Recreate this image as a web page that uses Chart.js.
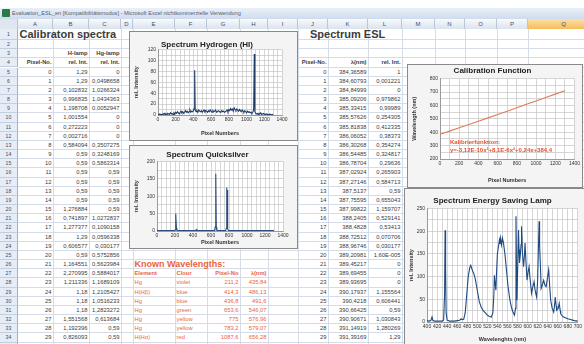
<!DOCTYPE html>
<html>
<head>
<meta charset="utf-8">
<script src="https://cdn.jsdelivr.net/npm/chart.js@4.4.1/dist/chart.umd.min.js"></script>
<style>
  body { margin: 0; width: 584px; height: 344px; overflow: hidden; background: #fff; position: relative;
         font-family: 'Liberation Sans', Arial, sans-serif; }
  .abs { position: absolute; }
  .celda { position: absolute; font-size: 5.8px; color: #3c3c3c; white-space: nowrap; z-index: 2; }
  .negrita { font-weight: bold; }
  .linea { position: absolute; background: #d5dce7; z-index: 1; }
  .colhdr { position: absolute; top: 19px; height: 10px; line-height: 10px; text-align: center; font-size: 6px;
            color: #3d4f68; background: linear-gradient(#f8fafd, #dbe3ee); border-right: 1px solid #b9c6d8;
            box-sizing: border-box; z-index: 3; }
  .filahdr { position: absolute; left: 0; width: 18px; text-align: center; font-size: 5.2px; color: #3d4f68;
             background: #e6edf7; border-bottom: 1px solid #c3cfdf; border-right: 1px solid #9fb3cc;
             box-sizing: border-box; z-index: 3; }
  .graf { position: absolute; border: 1px solid #8a8a8a; background: #f4f4f4; z-index: 5; }
  .graf canvas { display: block; }
  .rojo { color: #e8643e; }
</style>
</head>
<body>

<div class="abs" style="left:0;top:8px;width:584px;height:11px;background:linear-gradient(#e9f0f9,#cfdcee);z-index:3"></div>
<div class="abs" style="left:2px;top:9px;width:8px;height:8px;background:#2d7a46;border-radius:1px;z-index:4"></div>
<div class="abs" style="left:12px;top:9px;font-size:5.6px;line-height:9px;color:#55606e;z-index:4">Evaluation_ESL_en  [Kompatibilitätsmodus] - Microsoft Excel nichtkommerzielle Verwendung</div>
<div class="abs" style="left:0;top:19px;width:18px;height:10px;background:#dfe6f0;border-right:1px solid #b9c6d8;box-sizing:border-box;z-index:3"></div>

<div id="hoja"></div>

<div class="graf" style="left:129px;top:31px;width:167px;height:108px"><canvas id="cHidrogeno" width="167" height="108"></canvas></div>
<div class="graf" style="left:129px;top:145px;width:167px;height:102px"><canvas id="cMercurio" width="167" height="102"></canvas></div>
<div class="graf" style="left:407px;top:64px;width:174px;height:122px"><canvas id="cCalibracion" width="174" height="122"></canvas></div>
<div class="graf" style="left:404px;top:188px;width:179px;height:160px"><canvas id="cLampara" width="179" height="160"></canvas></div>

<div class="abs negrita" style="left:450px;top:138px;font-size:6px;line-height:8px;color:#e8502a;z-index:6">Kalibrierfunktion:<br>y=-3,12E-10x³+8,1E-6x²+0,24x+384,4</div>

<script>
// Hoja de cálculo: tablas
const pixelTabla = [0, 1, 2, 3, 4, 5, 6, 7, 8, 9, 10, 11, 12, 13, 14, 15, 16, 17, 18, 19, 20, 21, 22, 23, 24, 25, 26, 27, 28, 29];
const hLampara = ['1,29', '1,29', '0,102832', '0,996835', '1,198708', '1,001554', '0,272223', '0,002716', '0,584094', '0,59',
  '0,59', '0,59', '0,59', '0,59', '0,59', '1,276884', '0,741897', '1,277377', '1,29', '0,606577',
  '0,59', '1,164551', '2,270995', '1,211336', '1,18', '1,18', '1,18', '1,551568', '1,192396', '0,826093'];
const hgLampara = ['0', '0,0498658', '1,0266324', '1,0434363', '0,0052947', '0', '0', '0', '0,3507275', '0,3248169',
  '0,5863314', '0,59', '0,59', '0,59', '0,59', '0,59', '1,0272837', '0,1090158', '0,0596338', '0,030177',
  '0,5752856', '0,5623984', '0,5884017', '1,1689109', '1,2105427', '1,0516233', '1,2823272', '0,613684', '0,59', '0,59'];
const eslLambda = ['384,36589', '384,60793', '384,84999', '385,09206', '385,33415', '385,57626', '385,81838', '386,06052', '386,30268', '386,54485',
  '386,78704', '387,02924', '387,27146', '387,5137', '387,75595', '387,99822', '388,2405', '388,4828', '388,72512', '388,96746',
  '389,20981', '389,45217', '389,69455', '389,93695', '390,17937', '390,4218', '390,66425', '390,90671', '391,14919', '391,39169'];
const eslIntens = ['1', '0,001221', '0', '0,979862', '0,99989', '0,254305', '0,412335', '0,38373', '0,354274', '0,324817',
  '0,29636', '0,265903', '0,584713', '0,59', '0,655043', '1,159707', '0,529141', '0,53413', '0,070706', '0,030177',
  '1,60E-005', '0', '0', '0', '1,155564', '0,606441', '0,59', '1,030843', '1,280269', '1,29'];

const elementos = ['Hg', 'H(Hβ)', 'Hg', 'Hg', 'Hg', 'Hg', 'H(Hα)'];
const colores = ['violet', 'blue', 'blue', 'green', 'yellow', 'yellow', 'red'];
const pixelConocido = ['211,2', '414,3', '436,8', '653,6', '775', '783,2', '1087,6'];
const lambdaConocido = ['435,84', '486,13', '491,6', '546,07', '576,96', '579,07', '656,28'];

// Espectro hidrógeno
const pixelH = [0, 10, 20, 30, 40, 50, 60, 70, 80, 90, 100, 110, 120, 130, 140, 150, 160, 170, 180, 190, 200,
  210, 220, 230, 240, 250, 260, 270, 280, 290, 300, 310, 320, 330, 340, 350, 360, 370, 380, 390, 400,
  408, 414, 420,
  430, 440, 450, 460, 470, 480, 490, 500, 510, 520, 530, 540, 550, 560, 570, 580, 590, 600, 610, 620, 630, 640, 650, 660, 670, 680, 690, 700, 710, 720, 730, 740, 750, 760,
  770, 780, 790, 800, 810, 820, 830, 840, 850, 860, 870, 880, 890, 900, 910, 920, 930, 940, 950, 960, 970, 980, 990, 1000, 1010, 1020, 1030, 1040, 1050, 1060,
  1070, 1080, 1087, 1094,
  1100, 1110, 1120, 1130, 1140, 1150, 1160, 1170, 1180, 1190, 1200, 1210, 1220, 1230, 1240, 1250, 1260, 1270, 1280, 1290, 1300];
const intensH = [1, 0, 2, 1, 0, 2, 1, 3, 1, 2, 0, 3, 2, 1, 4, 2, 3, 1, 4, 2, 5,
  3, 6, 4, 2, 5, 7, 4, 6, 3, 5, 8, 5, 7, 4, 6, 9, 5, 7, 6, 8,
  12, 82, 9,
  6, 8, 5, 9, 7, 6, 8, 5, 7, 9, 6, 8, 7, 5, 8, 6, 9, 7, 5, 8, 6, 7, 9, 5, 6, 8, 7, 5, 6, 8, 6, 7, 5, 6,
  7, 9, 6, 10, 8, 12, 9, 11, 7, 13, 10, 8, 11, 9, 7, 10, 8, 6, 9, 7, 5, 8, 6, 4, 7, 5, 6, 4, 5, 3,
  5, 9, 112, 6,
  4, 2, 3, 1, 3, 2, 4, 1, 2, 3, 1, 2, 0, 2, 1, 0, 2, 1, 0, 1, 0];

// Espectro mercurio
const pixelHg = [0, 50, 100, 150, 190, 200, 205, 211, 216, 222, 250, 300, 350, 400, 430, 437, 444, 500, 550, 600,
  640, 647, 653, 659, 666, 700, 750, 765, 770, 775, 779, 783, 788, 795,
  850, 900, 950, 1000, 1050, 1100, 1150, 1200, 1250, 1300];
const intensHg = [1, 1, 1, 1, 1, 3, 10, 50, 8, 2, 1, 1, 1, 1, 1, 4, 1, 1, 1, 1,
  1, 12, 165, 10, 1, 1, 1, 2, 8, 125, 40, 118, 6, 1,
  1, 1, 1, 1, 1, 1, 1, 1, 1, 1];

// Función de calibración
const pixelCal = [0, 100, 200, 300, 400, 500, 600, 700, 800, 900, 1000, 1100, 1200, 1300];
const lambdaCal = [384, 408, 433, 457, 482, 507, 532, 557, 582, 608, 633, 659, 684, 710];

// Lámpara de bajo consumo
const lambdaESL = [400, 405, 408, 410, 412, 415, 420, 425, 430, 433,
  435, 436, 437, 438, 440, 445, 450, 455, 460, 465,
  468, 470, 473, 476, 479, 482, 485, 487, 489, 491,
  493, 496, 500, 504, 508, 512, 516, 520, 524, 528,
  531, 533, 534, 536, 537, 538, 540, 542, 544, 545,
  546, 548, 550, 552, 555, 558, 561, 565, 568, 571,
  574, 576, 577, 578, 579, 580, 582, 583, 584, 586,
  587, 588, 590, 592, 594, 595, 597, 599, 601, 603,
  605, 608, 610, 613, 615, 618, 620, 622, 623, 624,
  626, 627, 629, 632, 635, 637, 640, 642, 644, 646,
  649, 652, 654, 655, 657, 658, 661, 663, 665, 666,
  670, 674, 680, 687, 693, 700];
const intensESL = [3, 2, 4, 11, 3, 2, 2, 2, 2, 4,
  60, 202, 120, 20, 4, 2, 2, 2, 3, 4,
  7, 5, 6, 20, 60, 100, 120, 125, 118, 112,
  107, 95, 70, 45, 32, 25, 20, 15, 12, 11,
  20, 60, 103, 80, 70, 100, 150, 166, 180, 172,
  185, 170, 185, 175, 150, 115, 80, 48, 32, 22,
  15, 30, 233, 120, 48, 100, 203, 160, 130, 152,
  170, 211, 150, 122, 150, 174, 130, 92, 110, 122,
  95, 63, 75, 89, 70, 55, 90, 180, 222, 170,
  110, 74, 80, 92, 80, 78, 100, 115, 80, 48,
  30, 22, 40, 55, 35, 26, 30, 41, 25, 18,
  12, 10, 7, 5, 3, 2];

// ---- hoja ----
const letras = ['A', 'B', 'C', 'D', 'E', 'F', 'G', 'H', 'I', 'J', 'K', 'L', 'M', 'N', 'O', 'P', 'Q'];
const bordes = [18, 53, 89, 121, 133, 175, 207, 240, 268, 298, 328, 368, 402, 435, 465, 497, 528, 600];
const altoFila = 9.17;

function filaTop(f) { return f === 1 ? 29 : 40 + (f - 2) * altoFila; }
function filaAlto(f) { return f === 1 ? 11 : altoFila; }

const hoja = document.getElementById('hoja');

function agregar(html, clase, estilo) {
  const d = document.createElement('div');
  d.className = clase;
  d.style.cssText = estilo;
  d.innerHTML = html;
  hoja.appendChild(d);
  return d;
}

// celda alineada a la izquierda o derecha de su columna
function celda(col, fila, texto, derecha, extra) {
  const i = letras.indexOf(col);
  const top = filaTop(fila);
  let estilo = 'top:' + top + 'px;height:' + filaAlto(fila) + 'px;line-height:' + filaAlto(fila) + 'px;';
  if (derecha) estilo += 'right:' + (584 - bordes[i + 1] + 1.5) + 'px;';
  else estilo += 'left:' + (bordes[i] + 1.5) + 'px;';
  return agregar(texto, 'celda ' + (extra || ''), estilo);
}

// lineas de la cuadrícula
for (let i = 1; i < bordes.length; i++) {
  agregar('', 'linea', 'left:' + bordes[i] + 'px;top:29px;width:1px;height:320px');
}
for (let f = 1; f <= 35; f++) {
  agregar('', 'linea', 'left:18px;top:' + (filaTop(f) + filaAlto(f) - 1) + 'px;width:570px;height:1px');
}
// cabeceras de columnas
letras.forEach((l, i) => {
  const fondo = l === 'Q' ? 'background:linear-gradient(#fbe0a6,#f4bd5c);' : '';
  agregar(l, 'colhdr', 'left:' + bordes[i] + 'px;width:' + (bordes[i + 1] - bordes[i]) + 'px;' + fondo);
});
// cabeceras de filas
for (let f = 1; f <= 35; f++) {
  agregar(String(f), 'filahdr', 'top:' + filaTop(f) + 'px;height:' + filaAlto(f) + 'px;line-height:' + filaAlto(f) + 'px');
}

celda('A', 1, 'Calibraton spectra', false, 'negrita').style.fontSize = '11px';
celda('B', 3, 'H-lamp', true, 'negrita');
celda('C', 3, 'Hg-lamp', true, 'negrita');
celda('A', 4, 'Pixel-No.', true, 'negrita');
celda('B', 4, 'rel. Int.', true, 'negrita');
celda('C', 4, 'rel. Int.', true, 'negrita');
const tituloEsl = celda('J', 1, 'Spectrum ESL', false, 'negrita');
tituloEsl.style.fontSize = '11px';
tituloEsl.style.left = '310px';
celda('J', 4, 'Pixel-No.', true, 'negrita');
celda('K', 4, 'λ(nm)', true, 'negrita');
celda('L', 4, 'rel. Int.', true, 'negrita');

pixelTabla.forEach((p, i) => {
  const fila = i + 5;
  celda('A', fila, String(p), true);
  celda('B', fila, hLampara[i], true);
  celda('C', fila, hgLampara[i], true);
  celda('J', fila, String(p), true);
  celda('K', fila, eslLambda[i], true);
  celda('L', fila, eslIntens[i], true);
});

celda('E', 26, 'Known Wavelengths:', false, 'negrita rojo').style.fontSize = '9px';
celda('E', 27, 'Element', false, 'negrita rojo');
celda('F', 27, 'Clour', false, 'negrita rojo');
celda('G', 27, 'Pixel-No', true, 'negrita rojo');
celda('H', 27, 'λ(nm)', true, 'negrita rojo');
elementos.forEach((e, i) => {
  const fila = i + 28;
  celda('E', fila, e, false, 'rojo');
  celda('F', fila, colores[i], false, 'rojo');
  celda('G', fila, pixelConocido[i], true, 'rojo');
  celda('H', fila, lambdaConocido[i], true, 'rojo');
});

// ---- gráficos ----
Chart.defaults.font.family = "'Liberation Sans', Arial, sans-serif";
Chart.defaults.color = '#333';

const fondoArea = {
  id: 'fondoArea',
  beforeDraw(chart) {
    const { ctx, chartArea } = chart;
    ctx.save();
    ctx.fillStyle = '#ffffff';
    ctx.fillRect(chartArea.left, chartArea.top, chartArea.width, chartArea.height);
    ctx.restore();
  }
};

function eje(min, max, paso, cada, titulo, tam, horizontal) {
  return {
    type: 'linear',
    min: min,
    max: max,
    ticks: {
      stepSize: paso, autoSkip: false, maxRotation: 0, minRotation: 0,
      font: { size: 5 }, color: '#333', padding: 2,
      callback: function(valor) { return valor % cada === 0 ? valor : ''; }
    },
    grid: { color: '#c4c4c4', lineWidth: 0.7, drawTicks: false },
    border: { color: '#8c8c8c', width: 0.8 },
    title: { display: true, text: titulo, font: { size: 5.5, weight: 'bold' }, color: '#333', padding: 1 },
    afterFit: function(escala) {
      if (horizontal) escala.height = tam;
      else escala.width = tam;
    }
  };
}

function crearGrafico(id, titulo, padTitulo, relleno, xs, ys, color, ejeX, ejeY) {
  const ctx = document.getElementById(id).getContext('2d');
  return new Chart(ctx, {
    type: 'line',
    data: {
      datasets: [{
        data: xs.map((x, i) => ({ x: x, y: ys[i] })),
        borderColor: color,
        borderWidth: 1.1,
        pointRadius: 0,
        tension: 0,
        fill: false
      }]
    },
    options: {
      responsive: false,
      animation: false,
      devicePixelRatio: 1,
      layout: { padding: relleno },
      plugins: {
        legend: { display: false },
        tooltip: { enabled: false },
        title: { display: true, text: titulo, font: { size: 8, weight: 'bold' }, color: '#222', padding: padTitulo }
      },
      scales: { x: ejeX, y: ejeY }
    },
    plugins: [fondoArea]
  });
}

crearGrafico('cHidrogeno', 'Spectrum Hydrogen (HI)', { top: 8, bottom: 0 },
  { left: 2, right: 15, top: 0, bottom: 2 }, pixelH, intensH, '#1f3c68',
  eje(0, 1400, 50, 200, 'Pixel Numbers', 23, true),
  eje(0, 120, 10, 20, 'rel. Intensity', 26, false));

crearGrafico('cMercurio', 'Spectrum Quicksilver', { top: 4, bottom: 2 },
  { left: 2, right: 14, top: 0, bottom: 1 }, pixelHg, intensHg, '#2b4c7e',
  eje(0, 1400, 50, 200, 'Pixel Numbers', 16, true),
  eje(0, 200, 25, 50, 'rel. Intensity', 25, false));

crearGrafico('cCalibracion', 'Calibration Function', { top: 1, bottom: 3 },
  { left: 2, right: 7, top: 0, bottom: 2 }, pixelCal, lambdaCal, '#e27b5b',
  eje(0, 1400, 100, 200, 'Pixel Numbers', 26, true),
  eje(200, 800, 50, 100, 'Wavelength (nm)', 30, false));

crearGrafico('cLampara', 'Spectrum Energy Saving Lamp', { top: 7, bottom: 3 },
  { left: 2, right: 6, top: 0, bottom: 5 }, lambdaESL, intensESL, '#1f4a80',
  eje(400, 700, 10, 20, 'Wavelenghts (nm)', 22, true),
  eje(0, 250, 25, 50, 'rel. Intensity', 20, false));
</script>
</body>
</html>
